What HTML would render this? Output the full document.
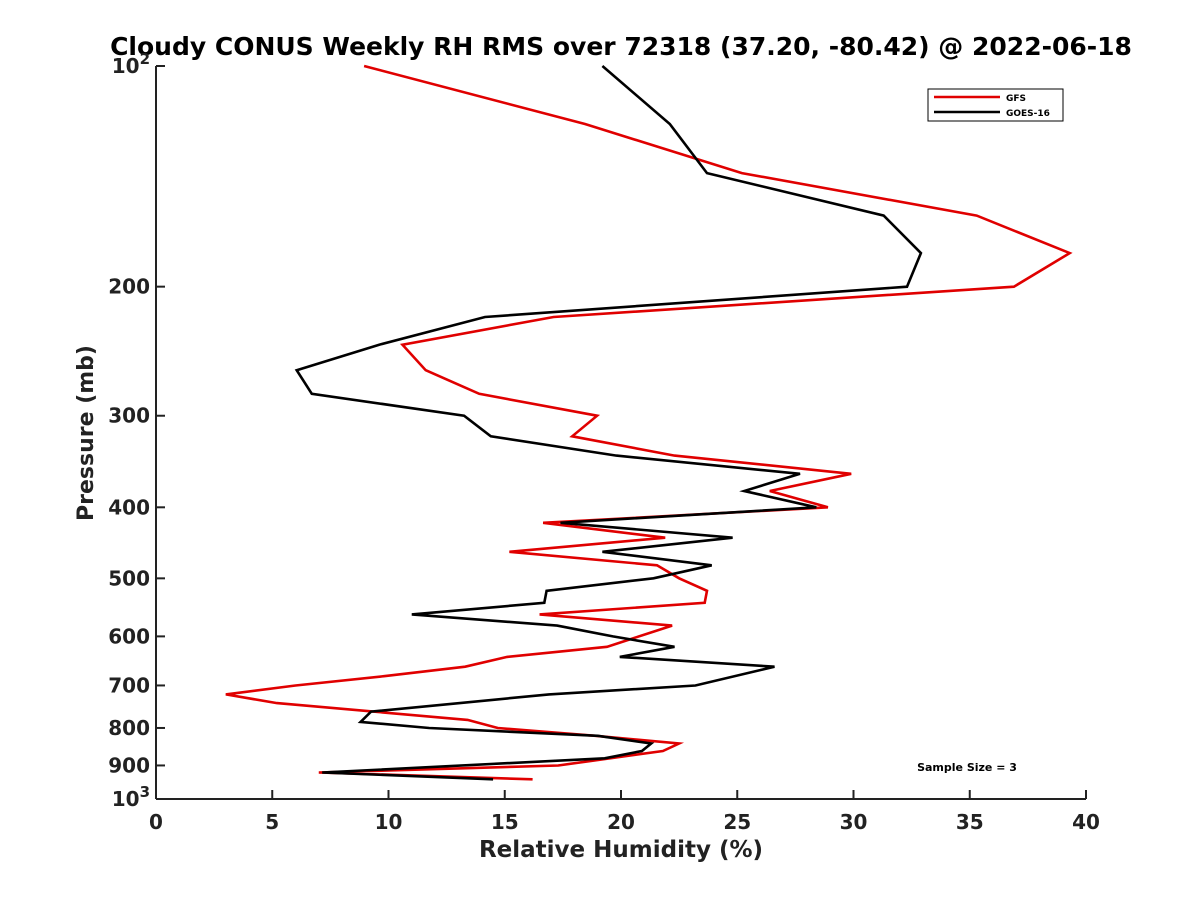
<!DOCTYPE html>
<html><head><meta charset="utf-8"><style>
html,body{margin:0;padding:0;background:#fff;}
svg{display:block;font-family:"DejaVu Sans","Liberation Sans",sans-serif;}
</style></head><body>
<svg id="chart" width="1200" height="900">
<rect width="1200" height="900" fill="#fff"/>
<text x="621" y="55" text-anchor="middle" font-size="25" font-weight="bold">Cloudy CONUS Weekly RH RMS over 72318 (37.20, -80.42) @ 2022-06-18</text>
<g id="axes"></g>
<g id="series"></g>
<text x="621" y="857" text-anchor="middle" font-size="23" font-weight="bold" fill="#222">Relative Humidity (%)</text>
<text transform="translate(93,433) rotate(-90)" text-anchor="middle" font-size="22" font-weight="bold" fill="#222">Pressure (mb)</text>
<g>
<rect x="928" y="89" width="135" height="32" fill="#fff" stroke="#000" stroke-width="1"/>
<line x1="934" y1="97" x2="1000" y2="97" stroke="#e00000" stroke-width="2.5"/>
<text x="1006" y="101" font-size="9" font-weight="bold">GFS</text>
<line x1="934" y1="112" x2="1000" y2="112" stroke="#000" stroke-width="2.5"/>
<text x="1006" y="116" font-size="9" font-weight="bold">GOES-16</text>
</g>
<text x="967" y="771" text-anchor="middle" font-size="11" font-weight="bold">Sample Size = 3</text>
</svg>
<script>
const xTicks = [0,5,10,15,20,25,30,35,40];
const yTicks = [100,200,300,400,500,600,700,800,900,1000];
const gfsPressure = [100,120,140,160,180,200,220,240,260,280,300,320,340,360,380,400,420,440,460,480,500,520,540,560,580,620,640,660,680,700,720,740,780,800,820,840,860,900,920,940];
const gfsRH = [8.95,18.45,25.2,35.3,39.3,36.9,17.1,10.6,11.6,13.9,18.97,17.9,22.3,29.9,26.4,28.9,16.65,21.9,15.2,21.55,22.5,23.7,23.6,16.5,22.2,19.4,15.1,13.3,9.8,6.0,3.0,5.2,13.4,14.7,18.9,22.5,21.8,17.3,7.0,16.2];
const goesPressure = [100,120,140,160,180,200,220,240,260,280,300,320,340,360,380,400,420,440,460,480,500,520,540,560,580,600,620,640,660,700,720,760,785,800,820,840,860,880,920,940];
const goesRH = [19.2,22.1,23.7,31.3,32.9,32.3,14.15,9.6,6.05,6.7,13.25,14.4,19.8,27.7,25.3,28.4,17.4,24.8,19.2,23.9,21.4,16.8,16.7,11.0,17.25,19.65,22.3,19.95,26.6,23.2,16.9,9.25,8.8,11.75,19.0,21.3,20.9,19.3,7.15,14.5];

const NS="http://www.w3.org/2000/svg";
const X0=156,X1=1086,Y0=66,Y1=799;
const xs=v=>X0+(v-0)/40*(X1-X0);
const ys=p=>Y0+(Math.log10(p)-2)*(Y1-Y0);
function mk(tag,attrs,parent){const e=document.createElementNS(NS,tag);for(const k in attrs)e.setAttribute(k,attrs[k]);parent.appendChild(e);return e;}
const axes=document.getElementById('axes');
const ax=mk('line',{x1:X0,y1:Y0,x2:X0,y2:Y1,stroke:'#222','stroke-width':2},axes);


const bx=mk('line',{x1:X0,y1:Y1,x2:X1,y2:Y1,stroke:'#222','stroke-width':2},axes);


xTicks.forEach(t=>{
  const x=xs(t);
  mk('line',{x1:x,y1:Y1,x2:x,y2:Y1-9,stroke:'#222','stroke-width':2},axes);
  const tx=mk('text',{x:x,y:Y1+30,'text-anchor':'middle','font-size':20,'font-weight':'bold',fill:'#222'},axes);
  tx.textContent=t;
  
  
});
yTicks.forEach(p=>{
  const y=ys(p);
  mk('line',{x1:X0,y1:y,x2:X0+9,y2:y,stroke:'#222','stroke-width':2},axes);
  const tx=mk('text',{x:X0-6,y:y+7,'text-anchor':'end','font-size':20,'font-weight':'bold',fill:'#222'},axes);
  if(p===100){tx.innerHTML='10<tspan dy="-9" font-size="15">2</tspan>';}
  else if(p===1000){tx.innerHTML='10<tspan dy="-9" font-size="15">3</tspan>';}
  else tx.textContent=p;
  
  
});
const ser=document.getElementById('series');
function line(pr,rh,color,name){
  const pts=pr.map((p,i)=>xs(rh[i]).toFixed(1)+','+ys(p).toFixed(1)).join(' ');
  const pl=mk('polyline',{points:pts,fill:'none',stroke:color,'stroke-width':2.6,'stroke-linejoin':'miter'},ser);
  
  
}
line(gfsPressure,gfsRH,'#e00000','gfs-line');
line(goesPressure,goesRH,'#000','goes16-line');
</script>
</body></html>
